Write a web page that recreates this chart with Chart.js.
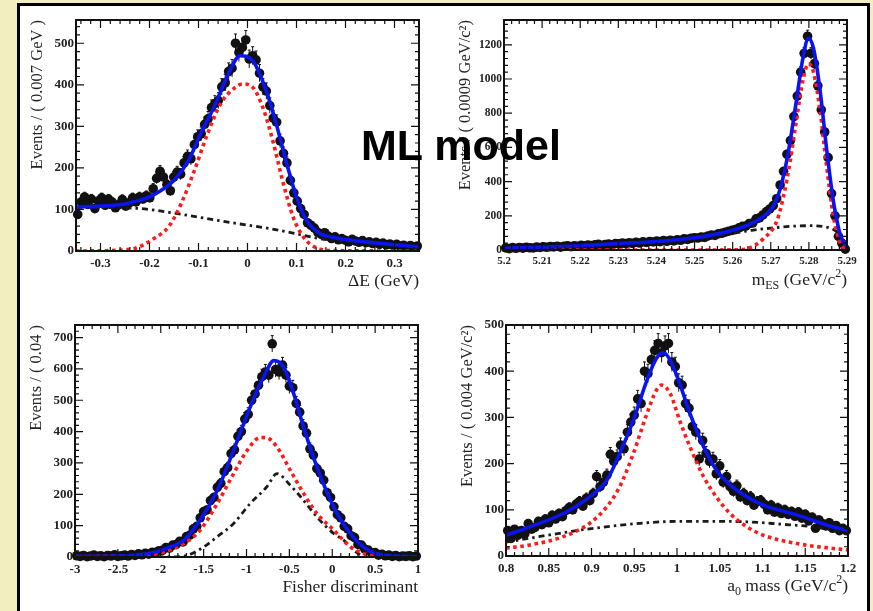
<!DOCTYPE html>
<html>
<head>
<meta charset="utf-8">
<script src="https://cdn.jsdelivr.net/npm/chart.js@4.4.1/dist/chart.umd.min.js"></script>
<style>
  body { margin: 0; width: 873px; height: 611px; overflow: hidden; position: relative;
         background: #f3eebf; }
  #sheet { position: absolute; left: 17px; top: 3px; width: 847px; height: 640px; background: #fff;
           border-left: 3px solid #000; border-top: 3px solid #000; border-right: 3px solid #000; }
  canvas { position: absolute; }
  #title { position: absolute; left: 361px; top: 124px; font: bold 43px "Liberation Sans", Arial, sans-serif;
           line-height: 42px; color: #000; white-space: nowrap; }
</style>
</head>
<body>
<div id="sheet"></div>
<canvas id="c1"></canvas>
<canvas id="c2"></canvas>
<canvas id="c3"></canvas>
<canvas id="c4"></canvas>
<div id="title">ML model</div>
<script>
// ---- Delta E panel (bins of 0.007 GeV) ----
const dEBinX = [-0.3465, -0.3395, -0.3325, -0.3255, -0.3185, -0.3115, -0.3045, -0.2975, -0.2905, -0.2835,
                -0.2765, -0.2695, -0.2625, -0.2555, -0.2485, -0.2415, -0.2345, -0.2275, -0.2205, -0.2135,
                -0.2065, -0.1995, -0.1925, -0.1855, -0.1785, -0.1715, -0.1645, -0.1575, -0.1505, -0.1435,
                -0.1365, -0.1295, -0.1225, -0.1155, -0.1085, -0.1015, -0.0945, -0.0875, -0.0805, -0.0735,
                -0.0665, -0.0595, -0.0525, -0.0455, -0.0385, -0.0315, -0.0245, -0.0175, -0.0105, -0.0035,
                0.0035, 0.0105, 0.0175, 0.0245, 0.0315, 0.0385, 0.0455, 0.0525, 0.0595, 0.0665,
                0.0735, 0.0805, 0.0875, 0.0945, 0.1015, 0.1085, 0.1155, 0.1225, 0.1295, 0.1365,
                0.1435, 0.1505, 0.1575, 0.1645, 0.1715, 0.1785, 0.1855, 0.1925, 0.1995, 0.2065,
                0.2135, 0.2205, 0.2275, 0.2345, 0.2415, 0.2485, 0.2555, 0.2625, 0.2695, 0.2765,
                0.2835, 0.2905, 0.2975, 0.3045, 0.3115, 0.3185, 0.3255, 0.3325, 0.3395, 0.3465];
const dEData = [88, 118, 130, 112, 125, 102, 120, 128, 110, 125,
                118, 104, 112, 124, 108, 116, 128, 118, 130, 125,
                133, 128, 150, 175, 192, 178, 160, 145, 178, 190,
                185, 212, 228, 222, 256, 275, 282, 305, 318, 345,
                355, 362, 395, 405, 432, 440, 500, 478, 490, 508,
                462, 470, 460, 428, 395, 385, 350, 320, 310, 265,
                235, 212, 170, 140, 120, 102, 88, 68, 62, 55,
                45, 40, 44, 36, 30, 34, 27, 30, 26, 22,
                28, 24, 21, 25, 20, 22, 18, 21, 16, 19,
                15, 17, 13, 16, 12, 14, 11, 13, 10, 12];
const dEFitX = [-0.35, -0.3, -0.25, -0.23, -0.2, -0.18, -0.15, -0.12, -0.095, -0.068, -0.04,
                -0.015, 0.012, 0.04, 0.06, 0.08, 0.1, 0.12, 0.147, 0.174, 0.24, 0.35];
const dEFitY = [106, 108, 113, 119, 130, 143, 170, 219, 284, 347, 424,
                470, 456, 380, 300, 211, 130, 75, 43, 33, 22, 10];
const dESigX = [-0.35, -0.28, -0.25, -0.23, -0.195, -0.16, -0.135, -0.108, -0.081, -0.054, -0.027,
                -0.01, 0.012, 0.033, 0.053, 0.073, 0.093, 0.114, 0.14, 0.18, 0.35];
const dESigY = [0, 1, 3, 6, 27, 60, 115, 195, 284, 356, 392, 402, 392, 340, 259, 163, 82, 34, 8, 1, 0];
const dEBkgX = [-0.35, -0.23, -0.149, -0.068, -0.015, 0.04, 0.093, 0.147, 0.24, 0.35];
const dEBkgY = [105, 103, 91, 75, 65, 55, 43, 30, 20, 9];
const dEXTicks = [-0.3, -0.2, -0.1, 0, 0.1, 0.2, 0.3];
const dEXLabels = ['-0.3', '-0.2', '-0.1', '0', '0.1', '0.2', '0.3'];
const dEYTicks = [0, 100, 200, 300, 400, 500];
const dEYLabels = ['0', '100', '200', '300', '400', '500'];

// ---- mES panel (bins of 0.0009 GeV/c2) ----
const mesBinX = [5.20045, 5.20135, 5.20225, 5.20315, 5.20405, 5.20495, 5.20585, 5.20675, 5.20765, 5.20855,
                 5.20945, 5.21035, 5.21125, 5.21215, 5.21305, 5.21395, 5.21485, 5.21575, 5.21665, 5.21755,
                 5.21845, 5.21935, 5.22025, 5.22115, 5.22205, 5.22295, 5.22385, 5.22475, 5.22565, 5.22655,
                 5.22745, 5.22835, 5.22925, 5.23015, 5.23105, 5.23195, 5.23285, 5.23375, 5.23465, 5.23555,
                 5.23645, 5.23735, 5.23825, 5.23915, 5.24005, 5.24095, 5.24185, 5.24275, 5.24365, 5.24455,
                 5.24545, 5.24635, 5.24725, 5.24815, 5.24905, 5.24995, 5.25085, 5.25175, 5.25265, 5.25355,
                 5.25445, 5.25535, 5.25625, 5.25715, 5.25805, 5.25895, 5.25985, 5.26075, 5.26165, 5.26255,
                 5.26345, 5.26435, 5.26525, 5.26615, 5.26705, 5.26795, 5.26885, 5.26975, 5.27065, 5.27155,
                 5.27245, 5.27335, 5.27425, 5.27515, 5.27605, 5.27695, 5.27785, 5.27875, 5.27965, 5.28055,
                 5.28145, 5.28235, 5.28325, 5.28415, 5.28505, 5.28595, 5.28685, 5.28775, 5.28865, 5.28955];
const mesData = [12, 8, 14, 10, 15, 11, 16, 13, 12, 17,
                 15, 19, 16, 20, 18, 22, 17, 21, 24, 20,
                 25, 22, 27, 24, 29, 26, 30, 33, 28, 32,
                 35, 31, 38, 36, 40, 37, 42, 39, 45, 41,
                 48, 44, 50, 47, 52, 49, 55, 51, 57, 53,
                 60, 57, 65, 62, 68, 72, 70, 76, 74, 82,
                 88, 85, 95, 98, 104, 110, 115, 120, 130, 138,
                 140, 155, 158, 182, 188, 205, 225, 240, 260, 300,
                 380, 460, 560, 640, 780, 900, 1040, 1150, 1250, 1150,
                 1090, 960, 820, 690, 540, 330, 200, 80, 40, 5];
const mesFitX = [5.2, 5.21, 5.22, 5.23, 5.24, 5.25, 5.255, 5.26, 5.265, 5.268, 5.2705,
                 5.2725, 5.2745, 5.2765, 5.2785, 5.2799, 5.2812, 5.2829, 5.2846, 5.2864, 5.2873, 5.2882, 5.29];
const mesFitY = [10, 17, 25, 38, 50, 72, 90, 115, 155, 195, 250,
                 360, 560, 840, 1130, 1240, 1180, 940, 600, 290, 180, 90, 20];
const mesSigX = [5.2, 5.25, 5.262, 5.2645, 5.268, 5.2716, 5.2733, 5.2751, 5.2768, 5.2785,
                 5.2799, 5.2812, 5.2829, 5.2846, 5.2864, 5.2882, 5.29];
const mesSigY = [0, 0, 2, 12, 65, 170, 310, 520, 770, 1000, 1090, 1040, 820, 500, 200, 40, 0];
const mesBkgX = [5.2, 5.21, 5.22, 5.23, 5.24, 5.25, 5.26, 5.265, 5.27, 5.275, 5.28, 5.284, 5.287, 5.289, 5.29];
const mesBkgY = [8, 15, 23, 35, 47, 66, 98, 115, 128, 138, 142, 136, 112, 60, 0];
const mesXTicks = [5.2, 5.21, 5.22, 5.23, 5.24, 5.25, 5.26, 5.27, 5.28, 5.29];
const mesXLabels = ['5.2', '5.21', '5.22', '5.23', '5.24', '5.25', '5.26', '5.27', '5.28', '5.29'];
const mesYTicks = [0, 200, 400, 600, 800, 1000, 1200];
const mesYLabels = ['0', '200', '400', '600', '800', '1000', '1200'];

// ---- Fisher panel (bins of 0.04) ----
const fishBinX = [-2.98, -2.94, -2.90, -2.86, -2.82, -2.78, -2.74, -2.70, -2.66, -2.62,
                  -2.58, -2.54, -2.50, -2.46, -2.42, -2.38, -2.34, -2.30, -2.26, -2.22,
                  -2.18, -2.14, -2.10, -2.06, -2.02, -1.98, -1.94, -1.90, -1.86, -1.82,
                  -1.78, -1.74, -1.70, -1.66, -1.62, -1.58, -1.54, -1.50, -1.46, -1.42,
                  -1.38, -1.34, -1.30, -1.26, -1.22, -1.18, -1.14, -1.10, -1.06, -1.02,
                  -0.98, -0.94, -0.90, -0.86, -0.82, -0.78, -0.74, -0.70, -0.66, -0.62,
                  -0.58, -0.54, -0.50, -0.46, -0.42, -0.38, -0.34, -0.30, -0.26, -0.22,
                  -0.18, -0.14, -0.10, -0.06, -0.02, 0.02, 0.06, 0.10, 0.14, 0.18,
                  0.22, 0.26, 0.30, 0.34, 0.38, 0.42, 0.46, 0.50, 0.54, 0.58,
                  0.62, 0.66, 0.70, 0.74, 0.78, 0.82, 0.86, 0.90, 0.94, 0.98];
const fishData = [4, 2, 5, 1, 3, 6, 2, 4, 1, 5,
                  3, 7, 2, 4, 6, 3, 8, 5, 10, 7,
                  12, 9, 15, 14, 20, 21, 30, 28, 38, 40,
                  50, 48, 65, 70, 90, 98, 125, 145, 150, 180,
                  190, 222, 235, 272, 285, 330, 342, 385, 400, 440,
                  455, 500, 520, 548, 575, 590, 580, 680, 598, 590,
                  612, 580, 545, 540, 490, 462, 418, 395, 345, 325,
                  282, 268, 245, 205, 190, 160, 135, 125, 98, 90,
                  68, 62, 40, 38, 25, 22, 12, 14, 6, 9,
                  4, 6, 2, 5, 1, 3, 2, 4, 1, 3];
const fishFitX = [-3, -2.5, -2.12, -1.93, -1.73, -1.54, -1.34, -1.15, -0.956, -0.8,
                  -0.68, -0.568, -0.45, -0.335, -0.18, 0.016, 0.21, 0.4, 0.6, 1];
const fishFitY = [2, 3, 12, 28, 54, 118, 213, 341, 479, 574, 627, 606, 521, 415, 288, 160, 75, 25, 6, 1];
const fishSigX = [-3, -2.5, -2.12, -1.93, -1.73, -1.54, -1.34, -1.15, -0.99, -0.84,
                  -0.76, -0.645, -0.49, -0.335, -0.18, 0.016, 0.21, 0.4, 0.6, 1];
const fishSigY = [2, 3, 7, 19, 43, 86, 171, 266, 341, 381, 380, 351, 277, 203, 139, 86, 33, 8, 2, 0];
const fishBkgX = [-3, -1.9, -1.695, -1.5, -1.34, -1.15, -0.956, -0.762, -0.645, -0.49,
                  -0.335, -0.18, 0.016, 0.132, 0.249, 0.4, 1];
const fishBkgY = [0, 0, 5, 32, 65, 107, 171, 224, 266, 229, 181, 128, 75, 54, 22, 0, 0];
const fishXTicks = [-3, -2.5, -2, -1.5, -1, -0.5, 0, 0.5, 1];
const fishXLabels = ['-3', '-2.5', '-2', '-1.5', '-1', '-0.5', '0', '0.5', '1'];
const fishYTicks = [0, 100, 200, 300, 400, 500, 600, 700];
const fishYLabels = ['0', '100', '200', '300', '400', '500', '600', '700'];

// ---- a0 mass panel (bins of 0.004 GeV/c2) ----
const a0BinX = [0.802, 0.806, 0.810, 0.814, 0.818, 0.822, 0.826, 0.830, 0.834, 0.838,
                0.842, 0.846, 0.850, 0.854, 0.858, 0.862, 0.866, 0.870, 0.874, 0.878,
                0.882, 0.886, 0.890, 0.894, 0.898, 0.902, 0.906, 0.910, 0.914, 0.918,
                0.922, 0.926, 0.930, 0.934, 0.938, 0.942, 0.946, 0.950, 0.954, 0.958,
                0.962, 0.966, 0.970, 0.974, 0.978, 0.982, 0.986, 0.990, 0.994, 0.998,
                1.002, 1.006, 1.010, 1.014, 1.018, 1.022, 1.026, 1.030, 1.034, 1.038,
                1.042, 1.046, 1.050, 1.054, 1.058, 1.062, 1.066, 1.070, 1.074, 1.078,
                1.082, 1.086, 1.090, 1.094, 1.098, 1.102, 1.106, 1.110, 1.114, 1.118,
                1.122, 1.126, 1.130, 1.134, 1.138, 1.142, 1.146, 1.150, 1.154, 1.158,
                1.162, 1.166, 1.170, 1.174, 1.178, 1.182, 1.186, 1.190, 1.194, 1.198];
const a0Data = [55, 38, 58, 45, 55, 48, 70, 58, 62, 75,
                68, 80, 72, 88, 80, 92, 85, 98, 105, 100,
                112, 118, 108, 125, 120, 135, 172, 150, 160, 175,
                220, 205, 215, 240, 232, 268, 290, 305, 340, 330,
                400, 395, 425, 445, 460, 440, 455, 460, 420, 410,
                375, 370, 330, 320, 280, 268, 210, 250, 222, 205,
                210, 178, 195, 160, 172, 150, 140, 152, 128, 135,
                120, 128, 110, 118, 120, 112, 100, 110, 95, 104,
                92, 100, 90, 96, 86, 95, 82, 90, 76, 84,
                60, 78, 70, 65, 72, 60, 66, 55, 60, 55];
const a0FitX = [0.8, 0.828, 0.867, 0.898, 0.918, 0.933, 0.949, 0.965, 0.976, 0.984, 0.992,
                1.003, 1.015, 1.031, 1.046, 1.062, 1.082, 1.101, 1.14, 1.179, 1.2];
const a0FitY = [45, 63, 92, 128, 164, 222, 294, 381, 428, 440, 424,
                374, 309, 237, 186, 154, 128, 110, 89, 65, 55];
const a0SigX = [0.8, 0.828, 0.867, 0.898, 0.918, 0.933, 0.949, 0.965, 0.976, 0.982, 0.992,
                1.003, 1.015, 1.031, 1.046, 1.062, 1.082, 1.101, 1.14, 1.179, 1.2];
const a0SigY = [17, 24, 42, 71, 107, 150, 222, 309, 359, 370, 352,
                294, 237, 172, 128, 92, 63, 45, 27, 17, 13];
const a0BkgX = [0.8, 0.8866, 0.9255, 0.965, 1.003, 1.0425, 1.082, 1.1205, 1.1594, 1.2];
const a0BkgY = [30, 56, 65, 72, 75, 75, 74, 69, 63, 50];
const a0XTicks = [0.8, 0.85, 0.9, 0.95, 1, 1.05, 1.1, 1.15, 1.2];
const a0XLabels = ['0.8', '0.85', '0.9', '0.95', '1', '1.05', '1.1', '1.15', '1.2'];
const a0YTicks = [0, 100, 200, 300, 400, 500];
const a0YLabels = ['0', '100', '200', '300', '400', '500'];

const SERIF = '"Liberation Serif", "Times New Roman", serif';

function pts(xs, ys) {
    return xs.map((x, i) => ({ x: x, y: ys[i] }));
}

// ROOT style frame: inward ticks on all four sides, axis titles, error bars
const rootFrame = {
    id: 'rootFrame',
    beforeDatasetsDraw(chart) {
        const ctx = chart.ctx;
        const ys = chart.scales.y;
        const meta = chart.getDatasetMeta(3);
        const ds = chart.data.datasets[3];
        ctx.save();
        ctx.strokeStyle = '#111';
        ctx.lineWidth = 1;
        meta.data.forEach((el, i) => {
            const v = ds.data[i].y;
            const err = Math.sqrt(v);
            const top = ys.getPixelForValue(v + err);
            const bot = ys.getPixelForValue(Math.max(v - err, 0));
            ctx.beginPath();
            ctx.moveTo(el.x, top); ctx.lineTo(el.x, bot);
            ctx.moveTo(el.x - 1.5, top); ctx.lineTo(el.x + 1.5, top);
            ctx.stroke();
        });
        ctx.restore();
    },
    afterDraw(chart, args, opts) {
        const { ctx, chartArea: a, scales: { x, y } } = chart;
        ctx.save();
        ctx.strokeStyle = '#111';
        ctx.lineWidth = 1.2;
        ctx.beginPath();
        const xMark = (v, len) => {
            const px = x.getPixelForValue(v);
            ctx.moveTo(px, a.bottom); ctx.lineTo(px, a.bottom - len);
            ctx.moveTo(px, a.top); ctx.lineTo(px, a.top + len);
        };
        const yMark = (v, len) => {
            const py = y.getPixelForValue(v);
            ctx.moveTo(a.left, py); ctx.lineTo(a.left + len, py);
            ctx.moveTo(a.right, py); ctx.lineTo(a.right - len, py);
        };
        for (let k = Math.ceil(x.min / opts.xMinor - 1e-6); k * opts.xMinor <= x.max + 1e-9; k++) xMark(k * opts.xMinor, 4);
        for (let k = Math.ceil(y.min / opts.yMinor - 1e-6); k * opts.yMinor <= y.max + 1e-9; k++) yMark(k * opts.yMinor, 4);
        x.ticks.forEach(t => xMark(t.value, 8));
        y.ticks.forEach(t => yMark(t.value, 8));
        ctx.stroke();

        ctx.lineWidth = 2;
        ctx.strokeRect(a.left, a.top, a.right - a.left, a.bottom - a.top);

        // y title, rotated, ending at the top of the frame
        ctx.fillStyle = '#222';
        ctx.font = '16.5px ' + SERIF;
        ctx.save();
        ctx.translate(a.left - 38, a.top);
        ctx.rotate(-Math.PI / 2);
        ctx.textAlign = 'right';
        ctx.textBaseline = 'middle';
        ctx.fillText(opts.yTitle, 0, 0);
        ctx.restore();

        // x title with sub/superscripts, right aligned
        const segs = opts.xTitle;
        const fontFor = s => (s[1] === 0 ? '17.5px ' : '12px ') + SERIF;
        let w = 0;
        segs.forEach(s => { ctx.font = fontFor(s); w += ctx.measureText(s[0]).width; });
        let cx = a.right - w;
        const base = a.bottom + 35;
        ctx.textAlign = 'left';
        ctx.textBaseline = 'alphabetic';
        segs.forEach(s => {
            ctx.font = fontFor(s);
            const dy = s[1] === -1 ? 4 : (s[1] === 1 ? -8 : 0);
            ctx.fillText(s[0], cx, base + dy);
            cx += ctx.measureText(s[0]).width;
        });
        ctx.restore();
    }
};

function makePanel(id, plot, cfg) {
    const canvas = document.getElementById(id);
    const [pl, pt, pw, ph] = plot;
    canvas.width = pw + 80;
    canvas.height = ph + 15 + 45;
    canvas.style.left = (pl - 60) + 'px';
    canvas.style.top = (pt - 15) + 'px';

    const xFont = { family: SERIF, size: cfg.xTickSize || 13, weight: 'bold' };
    const yFont = { family: SERIF, size: cfg.yTickSize || 13, weight: 'bold' };
    const curve = (data, color, width, dash, cap) => ({
        data: data, showLine: true, borderColor: color, borderWidth: width,
        borderDash: dash, borderCapStyle: cap, pointRadius: 0,
        cubicInterpolationMode: 'monotone', fill: false
    });

    return new Chart(canvas, {
        type: 'scatter',
        data: {
            datasets: [
                curve(pts(cfg.fitX, cfg.fitY), '#0a14f0', 3.6, [], 'round'),
                curve(pts(cfg.sigX, cfg.sigY), '#ff1a1a', 3.6, [3.6, 3.6], 'butt'),
                curve(pts(cfg.bkgX, cfg.bkgY), '#1a1a1a', 2.8, [6, 4, 2.5, 4], 'butt'),
                {
                    data: pts(cfg.binX, cfg.data), pointRadius: 4.8, pointBackgroundColor: '#111',
                    pointBorderWidth: 0, showLine: false, clip: 6
                }
            ]
        },
        options: {
            responsive: false,
            animation: false,
            devicePixelRatio: 1,
            events: [],
            layout: { padding: { left: 0, top: 15, right: 20, bottom: 0 } },
            plugins: {
                legend: { display: false },
                tooltip: { enabled: false },
                rootFrame: { xMinor: cfg.xMinor, yMinor: cfg.yMinor, yTitle: cfg.yTitle, xTitle: cfg.xTitle }
            },
            scales: {
                x: {
                    type: 'linear', min: cfg.xMin, max: cfg.xMax,
                    afterBuildTicks: s => { s.ticks = cfg.xTicks.map(v => ({ value: v })); },
                    afterFit: s => { s.height = 45; },
                    grid: { display: false, drawTicks: false },
                    border: { display: false },
                    ticks: {
                        callback: (v, i) => cfg.xLabels[i], font: xFont, color: '#222',
                        padding: 5, maxRotation: 0, minRotation: 0, autoSkip: false
                    }
                },
                y: {
                    type: 'linear', min: 0, max: cfg.yMax,
                    afterBuildTicks: s => { s.ticks = cfg.yTicks.map(v => ({ value: v })); },
                    afterFit: s => { s.width = 60; },
                    grid: { display: false, drawTicks: false },
                    border: { display: false },
                    ticks: {
                        callback: (v, i) => cfg.yLabels[i], font: yFont, color: '#222',
                        padding: 2, autoSkip: false
                    }
                }
            }
        },
        plugins: [rootFrame]
    });
}

makePanel('c1', [76, 20, 343, 231], {
    binX: dEBinX, data: dEData, fitX: dEFitX, fitY: dEFitY, sigX: dESigX, sigY: dESigY,
    bkgX: dEBkgX, bkgY: dEBkgY, xMin: -0.35, xMax: 0.35, yMax: 556,
    xTicks: dEXTicks, xLabels: dEXLabels, yTicks: dEYTicks, yLabels: dEYLabels,
    xMinor: 0.02, yMinor: 20,
    yTitle: 'Events / ( 0.007 GeV )', xTitle: [['ΔE (GeV)', 0]]
});

makePanel('c2', [504, 20, 343, 230], {
    binX: mesBinX, data: mesData, fitX: mesFitX, fitY: mesFitY, sigX: mesSigX, sigY: mesSigY,
    bkgX: mesBkgX, bkgY: mesBkgY, xMin: 5.2, xMax: 5.29, yMax: 1345,
    xTicks: mesXTicks, xLabels: mesXLabels, yTicks: mesYTicks, yLabels: mesYLabels,
    xMinor: 0.002, yMinor: 40, xTickSize: 11, yTickSize: 11.5,
    yTitle: 'Events / ( 0.0009 GeV/c²)',
    xTitle: [['m', 0], ['ES', -1], [' (GeV/c', 0], ['2', 1], [')', 0]]
});

makePanel('c3', [75, 325, 343, 232], {
    binX: fishBinX, data: fishData, fitX: fishFitX, fitY: fishFitY, sigX: fishSigX, sigY: fishSigY,
    bkgX: fishBkgX, bkgY: fishBkgY, xMin: -3, xMax: 1, yMax: 740,
    xTicks: fishXTicks, xLabels: fishXLabels, yTicks: fishYTicks, yLabels: fishYLabels,
    xMinor: 0.1, yMinor: 20,
    yTitle: 'Events / ( 0.04 )', xTitle: [['Fisher discriminant', 0]]
});

makePanel('c4', [506, 325, 342, 231], {
    binX: a0BinX, data: a0Data, fitX: a0FitX, fitY: a0FitY, sigX: a0SigX, sigY: a0SigY,
    bkgX: a0BkgX, bkgY: a0BkgY, xMin: 0.8, xMax: 1.2, yMax: 500,
    xTicks: a0XTicks, xLabels: a0XLabels, yTicks: a0YTicks, yLabels: a0YLabels,
    xMinor: 0.01, yMinor: 20,
    yTitle: 'Events / ( 0.004 GeV/c²)',
    xTitle: [['a', 0], ['0', -1], [' mass (GeV/c', 0], ['2', 1], [')', 0]]
});
</script>
</body>
</html>
